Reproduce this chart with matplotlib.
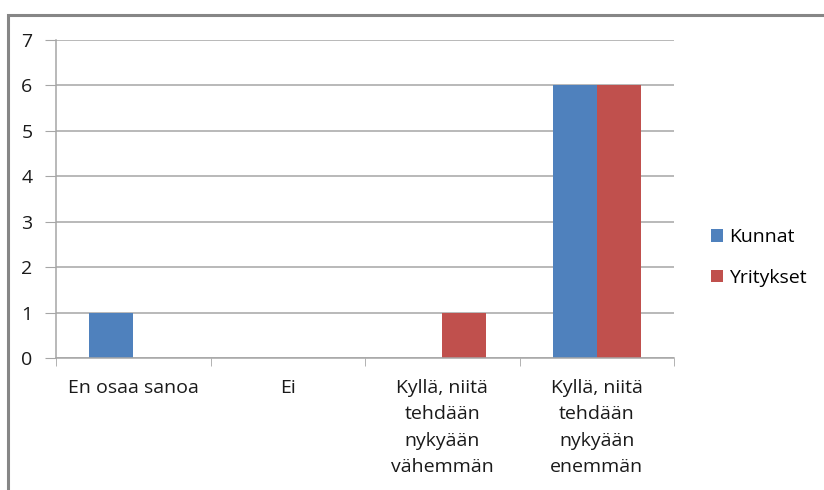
import matplotlib

matplotlib.use("Agg")
import matplotlib.pyplot as plt
import numpy as np
from matplotlib.patches import Rectangle

categories = ["En osaa sanoa", "Ei", "Kyllä, niitä\ntehdään\nnykyään\nvähemmän",
              "Kyllä, niitä\ntehdään\nnykyään\nenemmän"]
kunnat = [1, 0, 0, 6]
yritykset = [0, 0, 1, 6]
series_names = ["Kunnat", "Yritykset"]

BLUE, RED, GRID = "#4F81BD", "#C0504D", "#A6A6A6"
plt.rcParams["font.family"] = ["Open Sans", "DejaVu Sans"]

W, H = 824, 490
fig = plt.figure(figsize=(W / 100, H / 100), dpi=100)
# outer chart border (runs off the right and bottom edges)
fig.patches.append(Rectangle((8 / W, -0.2), 1.0, (H - 15) / H + 0.2, transform=fig.transFigure,
                             fill=False, edgecolor="#868686", linewidth=2.2))

ax = fig.add_axes([56 / W, (H - 358) / H, (674 - 56) / W, (358 - 40) / H])
x = np.arange(len(categories))
w = 1 / 3.5
ax.bar(x - w / 2, kunnat, w, color=BLUE, label=series_names[0])
ax.bar(x + w / 2, yritykset, w, color=RED, label=series_names[1])

ax.set_xlim(-0.5, len(categories) - 0.5)
ax.set_ylim(0, 7)
ax.set_yticks(range(8))
ax.yaxis.grid(True, color=GRID, linewidth=1.1)
ax.set_axisbelow(True)
for s in ["top", "right"]:
    ax.spines[s].set_visible(False)
for s in ["left", "bottom"]:
    ax.spines[s].set_color(GRID)
    ax.spines[s].set_linewidth(1.1)

ax.set_xticks(x)
ax.set_xticklabels(categories, fontsize=14, linespacing=1.6, color="#1a1a1a")
ax.set_xticks(np.arange(len(categories) + 1) - 0.5, minor=True)
ax.tick_params(axis="x", which="major", length=0, pad=15)
ax.tick_params(axis="x", which="minor", length=6, color=GRID, direction="out")
ax.tick_params(axis="y", length=8, color=GRID, labelsize=14, pad=9, labelcolor="#1a1a1a")

ax.legend(loc="center left", bbox_to_anchor=(1.032, 0.316), frameon=False, fontsize=14,
          handlelength=0.6, handleheight=0.6, handletextpad=0.3, labelspacing=1.15)

fig.savefig("out.png", dpi=100)
